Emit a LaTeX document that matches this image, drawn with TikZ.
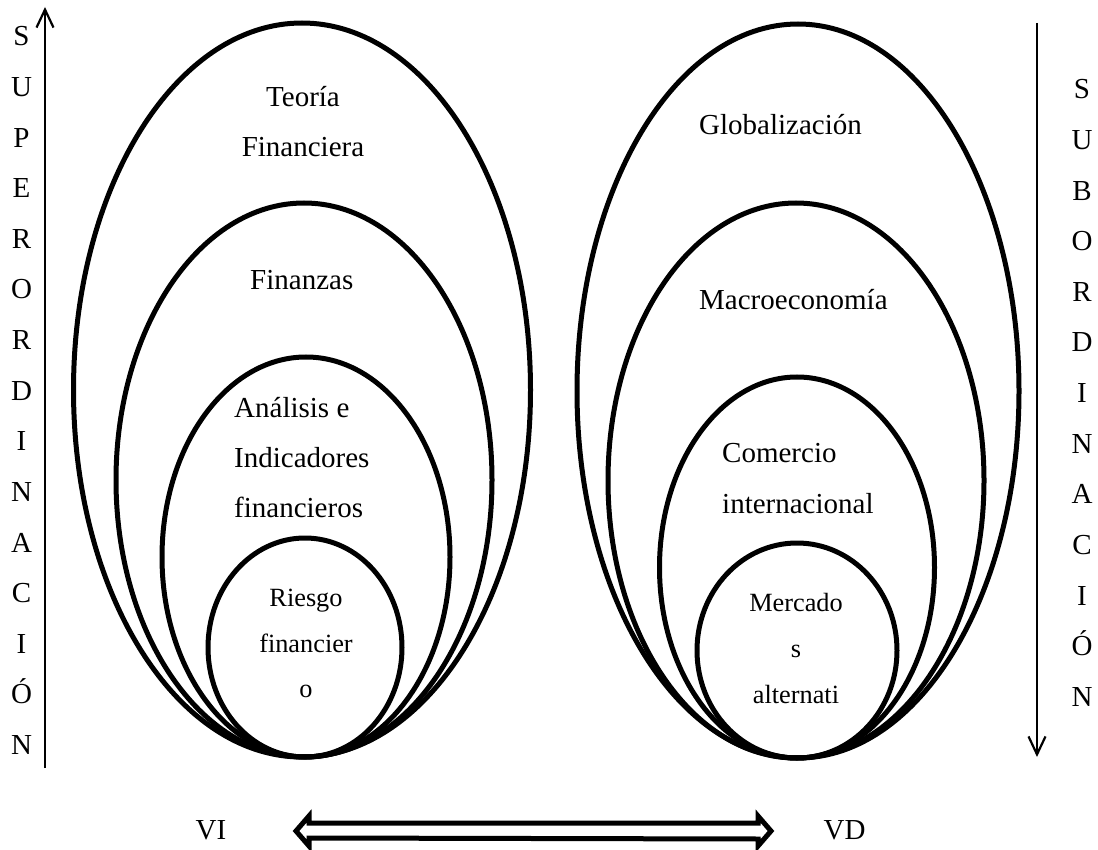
\documentclass[tikz,border=0pt]{standalone}
\usepackage{fontspec}
\setmainfont{Liberation Serif}
\usetikzlibrary{arrows.meta,calc}
\begin{document}
\begin{tikzpicture}[x=1pt,y=-1pt,
  ell/.style={line width=5pt},
  big/.style={font=\fontsize{29}{29}\selectfont, inner sep=0pt},
  small/.style={font=\fontsize{26.3}{26.3}\selectfont, inner sep=0pt},
  vline/.style={line width=2.2pt, -{Straight Barb[length=18pt,width=17pt]}},
  dbl/.style={line width=5pt, line join=miter}
]
\useasboundingbox (0,0) rectangle (1098,850);
% left ellipses
\draw[ell] (302,390) ellipse [x radius=228.5pt, y radius=367pt];
\draw[ell] (304,480) ellipse [x radius=188pt, y radius=277pt];
\draw[ell] (306,557) ellipse [x radius=144pt, y radius=200pt];
\draw[ell] (305,647.5) ellipse [x radius=97pt, y radius=109.5pt];
% right ellipses
\draw[ell] (798,391) ellipse [x radius=221pt, y radius=367pt];
\draw[ell] (796,480.5) ellipse [x radius=188pt, y radius=277.5pt];
\draw[ell] (797,567.5) ellipse [x radius=137.5pt, y radius=190.5pt];
\draw[ell] (797,650.5) ellipse [x radius=100pt, y radius=107.5pt];
% left texts
\node[big, anchor=base] (t1) at (303,107) {Teoría};
\node[big, anchor=base] (t2) at (303,157) {Financiera};
\node[big, anchor=base west] (t3) at (250,290) {Finanzas};
\node[big, anchor=base west] (t4) at (234,417) {Análisis e};
\node[big, anchor=base west] (t5) at (234,467) {Indicadores};
\node[big, anchor=base west] (t6) at (234,517) {financieros};
\node[small, anchor=base] (t7) at (306,606) {Riesgo};
\node[small, anchor=base] (t8) at (306,652) {financier};
\node[small, anchor=base] (t9) at (306,697) {o};
% right texts
\node[big, anchor=base west] (r1) at (699,135) {Globalización};
\node[big, anchor=base west] (r2) at (699,310) {Macroeconomía};
\node[big, anchor=base west] (r3) at (722,462) {Comercio};
\node[big, anchor=base west] (r4) at (722,513) {internacional};
\node[small, anchor=base] (r5) at (796,611) {Mercado};
\node[small, anchor=base] (r6) at (796,657) {s};
\node[small, anchor=base] (r7) at (796,703) {alternati};
% vertical words
\foreach \l [count=\i from 0] in {S,U,P,E,R,O,R,D,I,N,A,C,I,Ó,N}
  \node[big, anchor=base] (sl\i) at (21.5,46+50.6*\i) {\l};
\foreach \l [count=\i from 0] in {S,U,B,O,R,D,I,N,A,C,I,Ó,N}
  \node[big, anchor=base] (sr\i) at (1082,99+50.6*\i) {\l};
% vertical arrows
\coordinate (lb) at (45,768);
\coordinate (lt) at (45,7);
\draw[vline] (lb) -- (lt);
\coordinate (rt) at (1037,23);
\coordinate (rb) at (1037,757);
\draw[vline] (rt) -- (rb);
% bottom
\node[big, anchor=base] (vi) at (211,839) {VI};
\node[big, anchor=base] (vd) at (844.5,839) {VD};
\coordinate (al) at (296,831);
\coordinate (ar) at (771,831);
\draw[dbl] (al) -- ++(13,-15) -- ++(0,7) -- ($(ar)+(-13,-8)$) -- ++(0,-7) -- (ar)
  -- ++(-13,15) -- ++(0,-7) -- ($(al)+(13,7)$) -- ++(0,8) -- cycle;
\end{tikzpicture}
\end{document}
